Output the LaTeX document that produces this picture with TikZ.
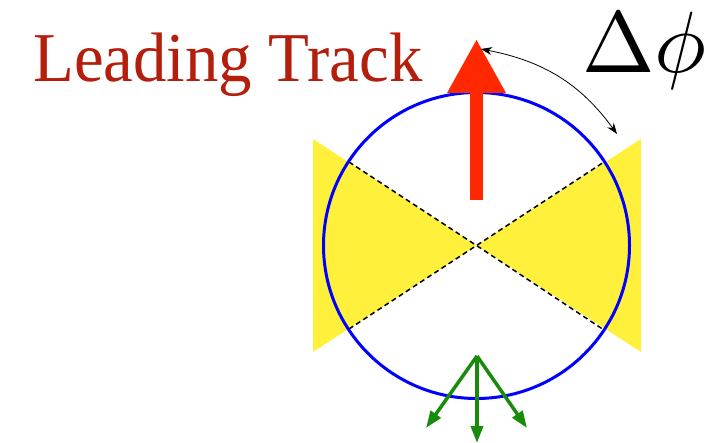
\documentclass[tikz,border=0pt]{standalone}
\usepackage{fontspec}
\setmainfont{Liberation Serif}
\usetikzlibrary{arrows.meta}
\definecolor{trackred}{RGB}{180,30,12}
\definecolor{arrowred}{RGB}{255,40,0}
\definecolor{fanyellow}{RGB}{255,240,60}
\definecolor{jetgreen}{RGB}{22,140,10}
\tikzset{
  wedge/.style={fill=fanyellow, draw=none},
  boundary/.style={draw=black, line width=1.5pt, dash pattern=on 5pt off 3.5pt},
  jetarrow/.style={draw=jetgreen, line width=3.5pt, -{Triangle[width=12pt,length=17pt]}},
}
\begin{document}
\begin{tikzpicture}[x=1pt,y=1pt]
\useasboundingbox (0,0) rectangle (714,-443);
% key points
\coordinate (C) at (476.5,-245.5);
\coordinate (LT) at (313,-139);
\coordinate (LB) at (313,-352);
\coordinate (RT) at (641,-139);
\coordinate (RB) at (641,-352);
\coordinate (dLT) at (349,-162);
\coordinate (dLB) at (349,-329);
\coordinate (dRT) at (604,-162);
\coordinate (dRB) at (604,-330);
% yellow wedges
\fill[wedge] (LT) -- (C) -- (LB) -- cycle;
\fill[wedge] (RT) -- (C) -- (RB) -- cycle;
% dashed boundaries
\draw[boundary] (dLT) -- (C) -- (dRB);
\draw[boundary] (dLB) -- (C) -- (dRT);
% circle
\draw[blue, line width=3pt] (C) circle[radius=153];
% red leading track arrow
\coordinate (redbase) at (476.5,-200);
\coordinate (redtip) at (476.5,-39);
\draw[arrowred, line width=13pt, -{Triangle[width=55pt,length=54pt]}] (redbase) -- (redtip);
% delta phi arc
\coordinate (arcA) at (481,-49);
\coordinate (arcB) at (617,-134);
\draw[black, line width=0.8pt, {Stealth[length=11pt,width=8pt]}-{Stealth[length=11pt,width=8pt]}] (arcA) to[out=-11,in=126] (arcB);
% labels
\node[anchor=base west, inner sep=0pt, text=trackred] (lt) at (33,-82)
  {\scalebox{0.955}[1.0]{\fontsize{70}{70}\selectfont Leading Track}};
\node[anchor=base west, inner sep=0pt] (dphi) at (582,-73)
  {\scalebox{8.7}{$\Delta\phi$}};
% green jets
\coordinate (vtx) at (477,-356);
\coordinate (g1) at (426,-428);
\coordinate (g2) at (477,-443);
\coordinate (g3) at (527,-428);
\draw[jetarrow] (vtx) -- (g1);
\draw[jetarrow] (vtx) -- (g2);
\draw[jetarrow] (vtx) -- (g3);
\end{tikzpicture}
\end{document}
